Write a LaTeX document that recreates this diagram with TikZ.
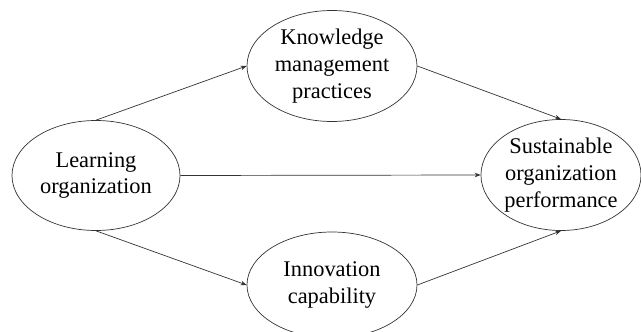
\documentclass[tikz,border=0pt]{standalone}
\usepackage{fontspec}
\setmainfont{Liberation Serif}
\usetikzlibrary{shapes.geometric, arrows.meta}

\begin{document}
\begin{tikzpicture}[x=1pt, y=-1pt, line width=0.7pt,
  construct/.style={ellipse, draw=black!80, align=center, inner sep=0pt,
    font=\fontsize{22.4}{26.7}\selectfont},
  link/.style={draw=black!80, -{Stealth[length=6pt, width=4.5pt]}}]
  \useasboundingbox (0,0) rectangle (641,332);

  % constructs
  \node [construct, minimum width=168pt, minimum height=110pt] (learn)
    at (96, 175.5) {Learning\\organization};
  \node [construct, minimum width=170pt, minimum height=111pt] (know)
    at (332, 66) {Knowledge\\management\\practices};
  \node [construct, minimum width=170pt, minimum height=106pt] (innov)
    at (332, 285) {Innovation\\capability};
  \node [construct, minimum width=156pt, minimum height=111pt] (sust)
    at (561, 175) {Sustainable\\organization\\performance};

  % paths
  \draw[link] (learn.north) -- (know.west);
  \draw[link] (learn.south) -- (innov.west);
  \draw[link] (learn.east) -- (sust.west);
  \draw[link] (know.east) -- (sust.north);
  \draw[link] (innov.east) -- (sust.south);
\end{tikzpicture}
\end{document}
